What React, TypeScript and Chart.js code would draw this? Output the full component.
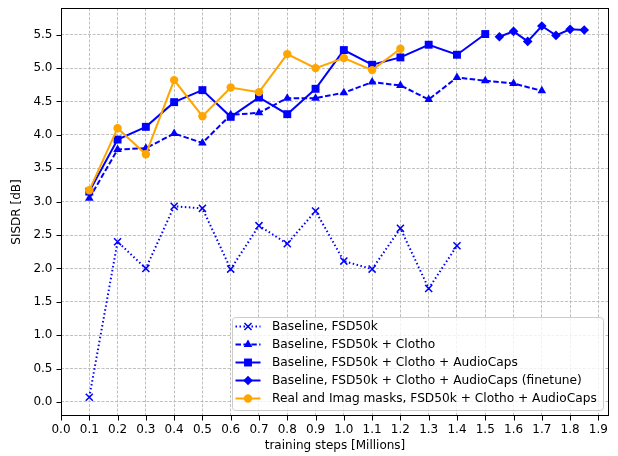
import React, { useEffect, useRef } from "react";
import { Chart, registerables } from "chart.js";

Chart.register(...registerables);

const stepsMain = [0.1, 0.2, 0.3, 0.4, 0.5, 0.6, 0.7, 0.8, 0.9, 1.0, 1.1, 1.2, 1.3, 1.4, 1.5, 1.6, 1.7];
const stepsFinetune = [1.55, 1.6, 1.65, 1.7, 1.75, 1.8, 1.85];

const fsd50k = [0.07, 2.4, 2.0, 2.93, 2.9, 1.99, 2.64, 2.37, 2.86, 2.11, 1.99, 2.6, 1.7, 2.34];
const fsdClotho = [3.05, 3.78, 3.8, 4.02, 3.88, 4.3, 4.33, 4.55, 4.55, 4.63, 4.79, 4.74, 4.53, 4.86, 4.81, 4.77, 4.66];
const fsdClothoAC = [3.15, 3.93, 4.12, 4.49, 4.67, 4.27, 4.56, 4.31, 4.69, 5.27, 5.05, 5.16, 5.35, 5.2, 5.51];
const fsdClothoACFinetune = [5.47, 5.55, 5.4, 5.63, 5.49, 5.58, 5.57];
const realImag = [3.17, 4.1, 3.71, 4.82, 4.28, 4.71, 4.64, 5.21, 5.0, 5.15, 4.97, 5.29];

const xTicks = [0, 0.1, 0.2, 0.3, 0.4, 0.5, 0.6, 0.7, 0.8, 0.9, 1.0, 1.1, 1.2, 1.3, 1.4, 1.5, 1.6, 1.7, 1.8, 1.9];
const yTicks = [0, 0.5, 1.0, 1.5, 2.0, 2.5, 3.0, 3.5, 4.0, 4.5, 5.0, 5.5];

const labels = [
  "Baseline, FSD50k",
  "Baseline, FSD50k + Clotho",
  "Baseline, FSD50k + Clotho + AudioCaps",
  "Baseline, FSD50k + Clotho + AudioCaps (finetune)",
  "Real and Imag masks, FSD50k + Clotho + AudioCaps",
];

const BLUE = "#0000ff";
const ORANGE = "#ffa500";
const FONT = "'DejaVu Sans', sans-serif";

function pts(xs: number[], ys: number[]) {
  return ys.map((y, i) => ({ x: xs[i], y }));
}

function drawMarker(ctx: CanvasRenderingContext2D, style: string, x: number, y: number, r: number, color: string) {
  ctx.save();
  ctx.fillStyle = color;
  ctx.strokeStyle = color;
  ctx.setLineDash([]);
  ctx.beginPath();
  if (style === "crossRot") {
    const d = r * Math.SQRT1_2;
    ctx.lineWidth = 1.5;
    ctx.moveTo(x - d, y - d); ctx.lineTo(x + d, y + d);
    ctx.moveTo(x - d, y + d); ctx.lineTo(x + d, y - d);
    ctx.stroke();
  } else if (style === "triangle") {
    ctx.moveTo(x, y - r);
    ctx.lineTo(x + r * Math.sin(Math.PI / 3), y + r * 0.5);
    ctx.lineTo(x - r * Math.sin(Math.PI / 3), y + r * 0.5);
    ctx.closePath(); ctx.fill();
  } else if (style === "rect") {
    const s = r * Math.SQRT1_2;
    ctx.rect(x - s, y - s, 2 * s, 2 * s); ctx.fill();
  } else if (style === "rectRot") {
    ctx.moveTo(x, y - r); ctx.lineTo(x + r, y); ctx.lineTo(x, y + r); ctx.lineTo(x - r, y);
    ctx.closePath(); ctx.fill();
  } else {
    ctx.arc(x, y, r, 0, Math.PI * 2); ctx.fill();
  }
  ctx.restore();
}

const framePlugin = {
  id: "frameAndLegend",
  afterDraw(chart: any) {
    const ctx: CanvasRenderingContext2D = chart.ctx;
    const { left, right, top, bottom } = chart.chartArea;
    const xs = chart.scales.x;
    const ys = chart.scales.y;
    ctx.save();
    ctx.strokeStyle = "#000";
    ctx.lineWidth = 1;
    ctx.setLineDash([]);
    const L = Math.round(left) + 0.5, R = Math.round(right) - 0.5, T = Math.round(top) + 0.5, B = Math.round(bottom) - 0.5;
    ctx.strokeRect(L, T, R - L, B - T);
    ctx.beginPath();
    xTicks.forEach((v) => {
      const px = Math.round(xs.getPixelForValue(v)) + 0.5;
      ctx.moveTo(px, B); ctx.lineTo(px, B + 5);
    });
    yTicks.forEach((v) => {
      const py = Math.round(ys.getPixelForValue(v)) + 0.5;
      ctx.moveTo(L, py); ctx.lineTo(L - 5, py);
    });
    ctx.stroke();

    // legend
    ctx.font = `12.2px ${FONT}`;
    const boxRight = right - 6;
    const boxBottom = bottom - 6;
    const boxW = 371;
    const boxH = 93;
    const boxLeft = boxRight - boxW;
    const boxTop = boxBottom - boxH;
    ctx.fillStyle = "rgba(255,255,255,0.8)";
    ctx.strokeStyle = "#cccccc";
    ctx.lineWidth = 1;
    ctx.beginPath();
    const rr = 3;
    const bl = Math.round(boxLeft) + 0.5, bt = Math.round(boxTop) + 0.5, br = Math.round(boxRight) + 0.5, bb = Math.round(boxBottom) + 0.5;
    ctx.moveTo(bl + rr, bt);
    ctx.arcTo(br, bt, br, bb, rr);
    ctx.arcTo(br, bb, bl, bb, rr);
    ctx.arcTo(bl, bb, bl, bt, rr);
    ctx.arcTo(bl, bt, br, bt, rr);
    ctx.closePath();
    ctx.fill();
    ctx.stroke();

    const dsets = chart.data.datasets;
    labels.forEach((lab, i) => {
      const ds = dsets[i];
      const cy = boxTop + 9.5 + 18 * i;
      ctx.save();
      ctx.strokeStyle = ds.borderColor;
      ctx.lineWidth = 2;
      ctx.setLineDash(ds.borderDash || []);
      ctx.beginPath();
      ctx.moveTo(boxLeft + 3.5, cy);
      ctx.lineTo(boxLeft + 28.5, cy);
      ctx.stroke();
      ctx.restore();
      drawMarker(ctx, ds.pointStyle, boxLeft + 16, cy, ds.pointRadius, ds.borderColor);
      ctx.fillStyle = "#000";
      ctx.textBaseline = "middle";
      ctx.textAlign = "left";
      ctx.fillText(lab, boxLeft + 40, cy + 0.5);
    });
    ctx.restore();
  },
};

export default function App() {
  const ref = useRef<HTMLCanvasElement>(null);
  useEffect(() => {
    if (!ref.current) return;
    const tickFont = { family: FONT, size: 12 };
    const chart = new Chart(ref.current, {
      type: "line",
      data: {
        datasets: [
          {
            label: labels[0], data: pts(stepsMain, fsd50k), borderColor: BLUE, backgroundColor: BLUE,
            borderWidth: 2, borderDash: [1.5, 2.5], pointStyle: "crossRot", pointRadius: 5, pointBorderWidth: 1.5,
            pointHoverRadius: 5, order: 4,
          },
          {
            label: labels[1], data: pts(stepsMain, fsdClotho), borderColor: BLUE, backgroundColor: BLUE,
            borderWidth: 2, borderDash: [5.5, 2.4], pointStyle: "triangle", pointRadius: 5, pointBorderWidth: 0,
            pointHoverRadius: 5, order: 3,
          },
          {
            label: labels[2], data: pts(stepsMain, fsdClothoAC), borderColor: BLUE, backgroundColor: BLUE,
            borderWidth: 2, pointStyle: "rect", pointRadius: 5.6, pointBorderWidth: 0, pointHoverRadius: 5.6, order: 2,
          },
          {
            label: labels[3], data: pts(stepsFinetune, fsdClothoACFinetune), borderColor: BLUE, backgroundColor: BLUE,
            borderWidth: 2, pointStyle: "rectRot", pointRadius: 4.8, pointBorderWidth: 0, pointHoverRadius: 4.8, order: 1,
          },
          {
            label: labels[4], data: pts(stepsMain, realImag), borderColor: ORANGE, backgroundColor: ORANGE,
            borderWidth: 2, pointStyle: "circle", pointRadius: 4.2, pointBorderWidth: 0, pointHoverRadius: 4.2, order: 0,
          },
        ],
      },
      options: {
        responsive: false,
        animation: false,
        events: [],
        layout: { padding: { top: 8, right: 9, left: 0, bottom: 0 } },
        plugins: { legend: { display: false }, tooltip: { enabled: false } },
        scales: {
          x: {
            type: "linear",
            min: 0,
            max: 1.9375,
            afterBuildTicks: (s: any) => { s.ticks = xTicks.map((v) => ({ value: v })); },
            afterFit: (s: any) => { s.height = 40; s.paddingLeft = 0; s.paddingRight = 0; },
            ticks: { font: tickFont, color: "#000", padding: 7, maxRotation: 0, autoSkip: false, callback: (v: any) => Number(v).toFixed(1) },
            grid: { color: "#b0b0b0", lineWidth: 0.8, drawTicks: false },
            border: { display: false, dash: [3, 1.5] },
            title: { display: true, text: "training steps [Millions]", font: tickFont, color: "#000", padding: { top: 0, bottom: 3 } },
          },
          y: {
            type: "linear",
            min: -0.21,
            max: 5.9,
            afterBuildTicks: (s: any) => { s.ticks = yTicks.map((v) => ({ value: v })); },
            afterFit: (s: any) => { s.width = 61; s.paddingTop = 0; s.paddingBottom = 0; },
            ticks: { font: tickFont, color: "#000", padding: 8.5, autoSkip: false, callback: (v: any) => Number(v).toFixed(1) },
            grid: { color: "#b0b0b0", lineWidth: 0.8, drawTicks: false },
            border: { display: false, dash: [3, 1.5] },
            title: { display: true, text: "SISDR [dB]", font: tickFont, color: "#000", padding: { top: 10, bottom: 0 } },
          },
        },
      },
      plugins: [framePlugin],
    } as any);
    return () => chart.destroy();
  }, []);
  return (
    <div style={{ position: "absolute", left: 0, top: 0, width: 618, height: 456, background: "#fff" }}>
      <canvas ref={ref} width={618} height={456} style={{ display: "block" }} />
    </div>
  );
}
